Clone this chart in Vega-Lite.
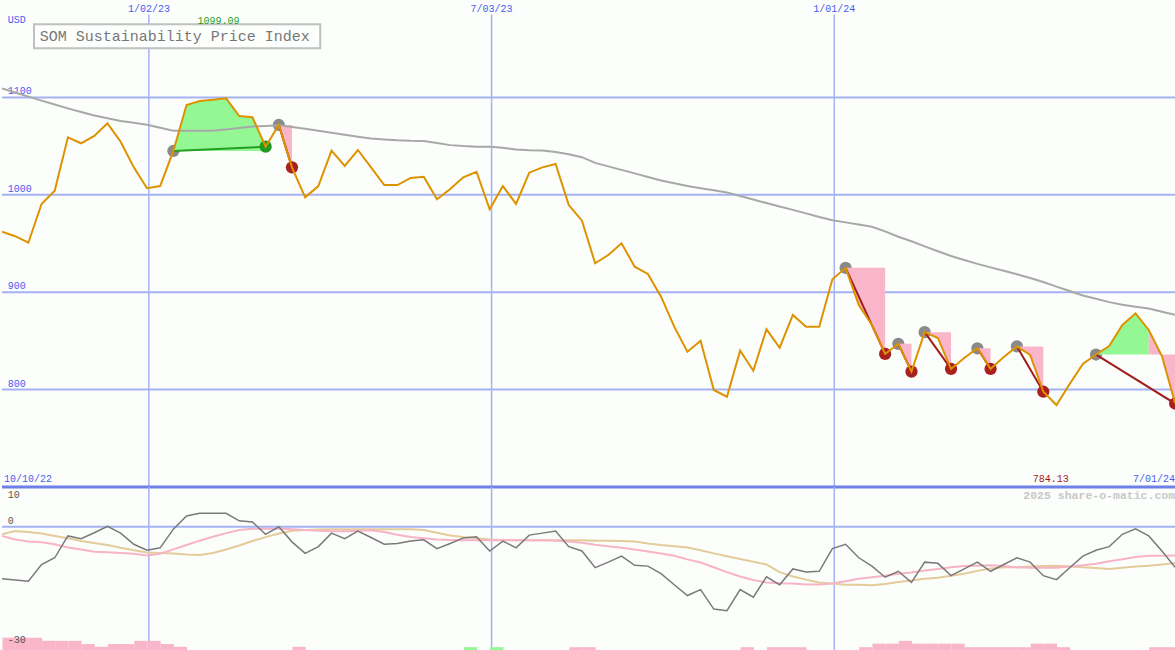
{
  "$schema": "https://vega.github.io/schema/vega-lite/v6.json",
  "background": "#fbfefb",
  "padding": 0,
  "spacing": 0,
  "bounds": "flush",
  "config": {"font": "Liberation Mono", "view": {"stroke": null}},
  "datasets": {
    "series": [
      {"d":"2022-10-16","price":962,"ma":1109.3,"osc":-13.1,"s1":-2.3,"s2":-1.9},
      {"d":"2022-10-23","price":957.5,"ma":1105.1,"osc":-13.4,"s1":-3.2,"s2":-1.1},
      {"d":"2022-10-30","price":950.8,"ma":1100.8,"osc":-13.7,"s1":-3.7,"s2":-1.3},
      {"d":"2022-11-06","price":990.6,"ma":1096.7,"osc":-9.5,"s1":-3.9,"s2":-1.7},
      {"d":"2022-11-13","price":1004.2,"ma":1092.7,"osc":-7.8,"s1":-4.4,"s2":-2.3},
      {"d":"2022-11-20","price":1059,"ma":1088.7,"osc":-2.3,"s1":-5.2,"s2":-2.9},
      {"d":"2022-11-27","price":1052.9,"ma":1085,"osc":-3.0,"s1":-5.7,"s2":-3.6},
      {"d":"2022-12-04","price":1060.4,"ma":1081.4,"osc":-1.5,"s1":-6.3,"s2":-4.1},
      {"d":"2022-12-11","price":1073.4,"ma":1078.5,"osc":0.1,"s1":-6.4,"s2":-4.6},
      {"d":"2022-12-18","price":1054.5,"ma":1075.8,"osc":-1.6,"s1":-6.6,"s2":-5.3},
      {"d":"2022-12-25","price":1028.2,"ma":1073.9,"osc":-4.4,"s1":-6.8,"s2":-5.9},
      {"d":"2023-01-01","price":1006.7,"ma":1072,"osc":-5.9,"s1":-7.2,"s2":-6.5},
      {"d":"2023-01-08","price":1009,"ma":1068.8,"osc":-5.3,"s1":-6.8,"s2":-6.6},
      {"d":"2023-01-15","price":1045,"ma":1065.8,"osc":-0.6,"s1":-5.7,"s2":-6.7},
      {"d":"2023-01-22","price":1092.2,"ma":1065.8,"osc":2.7,"s1":-4.6,"s2":-7.0},
      {"d":"2023-01-29","price":1096.3,"ma":1065.8,"osc":3.4,"s1":-3.5,"s2":-7.1},
      {"d":"2023-02-05","price":1097.5,"ma":1065.8,"osc":3.4,"s1":-2.5,"s2":-6.6},
      {"d":"2023-02-12","price":1099.09,"ma":1067.1,"osc":3.4,"s1":-1.6,"s2":-5.7},
      {"d":"2023-02-19","price":1080.9,"ma":1068.7,"osc":1.5,"s1":-0.8,"s2":-4.7},
      {"d":"2023-02-26","price":1079.6,"ma":1070.1,"osc":1.2,"s1":-0.5,"s2":-3.6},
      {"d":"2023-03-05","price":1049.4,"ma":1070.6,"osc":-1.9,"s1":-0.5,"s2":-2.6},
      {"d":"2023-03-12","price":1071.7,"ma":1071.3,"osc":0.0,"s1":-0.5,"s2":-1.7},
      {"d":"2023-03-19","price":1028.2,"ma":1069.6,"osc":-3.8,"s1":-0.6,"s2":-1.0},
      {"d":"2023-03-26","price":997.4,"ma":1067.8,"osc":-6.7,"s1":-0.8,"s2":-0.8},
      {"d":"2023-04-02","price":1009,"ma":1065.7,"osc":-5.0,"s1":-1.0,"s2":-0.7},
      {"d":"2023-04-09","price":1045.3,"ma":1063.7,"osc":-1.6,"s1":-1.1,"s2":-0.6},
      {"d":"2023-04-16","price":1029.6,"ma":1061.6,"osc":-3.0,"s1":-1.1,"s2":-0.6},
      {"d":"2023-04-23","price":1046,"ma":1059.7,"osc":-1.1,"s1":-1.0,"s2":-0.6},
      {"d":"2023-04-30","price":1028.2,"ma":1057.8,"osc":-2.7,"s1":-0.9,"s2":-0.6},
      {"d":"2023-05-07","price":1010,"ma":1056.9,"osc":-4.4,"s1":-1.3,"s2":-0.6},
      {"d":"2023-05-14","price":1010,"ma":1055.9,"osc":-4.2,"s1":-2.0,"s2":-0.6},
      {"d":"2023-05-21","price":1017.3,"ma":1055.4,"osc":-3.6,"s1":-2.6,"s2":-0.6},
      {"d":"2023-05-28","price":1018.6,"ma":1055.2,"osc":-3.3,"s1":-2.9,"s2":-0.8},
      {"d":"2023-06-04","price":995.4,"ma":1053.2,"osc":-5.5,"s1":-3.2,"s2":-1.5},
      {"d":"2023-06-11","price":1006,"ma":1051,"osc":-4.2,"s1":-3.3,"s2":-2.2},
      {"d":"2023-06-18","price":1018,"ma":1050,"osc":-2.8,"s1":-3.4,"s2":-2.6},
      {"d":"2023-06-25","price":1023.7,"ma":1049.4,"osc":-2.5,"s1":-3.4,"s2":-2.9},
      {"d":"2023-07-02","price":985.1,"ma":1049.4,"osc":-6.1,"s1":-3.4,"s2":-3.2},
      {"d":"2023-07-09","price":1009,"ma":1048.2,"osc":-3.6,"s1":-3.4,"s2":-3.3},
      {"d":"2023-07-16","price":990.6,"ma":1046.6,"osc":-5.3,"s1":-3.4,"s2":-3.4},
      {"d":"2023-07-23","price":1022.7,"ma":1045.8,"osc":-2.1,"s1":-3.4,"s2":-3.4},
      {"d":"2023-07-30","price":1028.2,"ma":1045.5,"osc":-1.6,"s1":-3.4,"s2":-3.4},
      {"d":"2023-08-06","price":1031.6,"ma":1043.9,"osc":-1.1,"s1":-3.5,"s2":-3.4},
      {"d":"2023-08-13","price":989.5,"ma":1041.6,"osc":-5.0,"s1":-3.7,"s2":-3.4},
      {"d":"2023-08-20","price":973.4,"ma":1038.6,"osc":-6.1,"s1":-4.0,"s2":-3.4},
      {"d":"2023-08-27","price":929.7,"ma":1032.8,"osc":-10.3,"s1":-4.5,"s2":-3.5},
      {"d":"2023-09-03","price":938.2,"ma":1029.2,"osc":-8.9,"s1":-4.9,"s2":-3.5},
      {"d":"2023-09-10","price":950.2,"ma":1025.6,"osc":-7.4,"s1":-5.3,"s2":-3.6},
      {"d":"2023-09-17","price":926.2,"ma":1022,"osc":-9.7,"s1":-5.7,"s2":-3.7},
      {"d":"2023-09-24","price":918.7,"ma":1018.3,"osc":-9.9,"s1":-6.2,"s2":-4.2},
      {"d":"2023-10-01","price":895.4,"ma":1014.6,"osc":-11.8,"s1":-6.7,"s2":-4.6},
      {"d":"2023-10-08","price":864.6,"ma":1011.8,"osc":-14.6,"s1":-7.3,"s2":-4.9},
      {"d":"2023-10-15","price":838.9,"ma":1009.1,"osc":-17.3,"s1":-8.2,"s2":-5.2},
      {"d":"2023-10-22","price":850.2,"ma":1006.7,"osc":-15.8,"s1":-9.0,"s2":-5.9},
      {"d":"2023-10-29","price":799.6,"ma":1004.6,"osc":-20.7,"s1":-10.2,"s2":-6.7},
      {"d":"2023-11-05","price":792.7,"ma":1002.4,"osc":-21.1,"s1":-11.4,"s2":-7.4},
      {"d":"2023-11-12","price":839.9,"ma":998.8,"osc":-15.8,"s1":-12.5,"s2":-8.1},
      {"d":"2023-11-19","price":819.4,"ma":995.1,"osc":-17.7,"s1":-13.4,"s2":-8.8},
      {"d":"2023-11-26","price":861.9,"ma":991.5,"osc":-12.6,"s1":-14.0,"s2":-9.5},
      {"d":"2023-12-03","price":843,"ma":988,"osc":-14.6,"s1":-14.2,"s2":-11.4},
      {"d":"2023-12-10","price":876.6,"ma":984.5,"osc":-10.6,"s1":-14.3,"s2":-12.5},
      {"d":"2023-12-17","price":864.6,"ma":980.9,"osc":-11.4,"s1":-14.5,"s2":-13.3},
      {"d":"2023-12-24","price":864.6,"ma":977.3,"osc":-11.2,"s1":-14.5,"s2":-14.0},
      {"d":"2023-12-31","price":913.2,"ma":973.9,"osc":-5.5,"s1":-14.3,"s2":-14.3},
      {"d":"2024-01-07","price":925,"ma":971.7,"osc":-4.4,"s1":-13.7,"s2":-14.6},
      {"d":"2024-01-14","price":886.9,"ma":969.4,"osc":-7.8,"s1":-13.1,"s2":-14.6},
      {"d":"2024-01-21","price":866.3,"ma":967.2,"osc":-9.9,"s1":-12.7,"s2":-14.7},
      {"d":"2024-01-28","price":836.6,"ma":962.5,"osc":-12.7,"s1":-12.3,"s2":-14.4},
      {"d":"2024-02-04","price":847,"ma":956.9,"osc":-11.2,"s1":-11.8,"s2":-13.9},
      {"d":"2024-02-11","price":818.4,"ma":952.3,"osc":-14.0,"s1":-11.5,"s2":-13.5},
      {"d":"2024-02-18","price":859,"ma":947.1,"osc":-8.9,"s1":-11.0,"s2":-13.1},
      {"d":"2024-02-25","price":853,"ma":942.1,"osc":-9.2,"s1":-10.6,"s2":-12.8},
      {"d":"2024-03-03","price":821.2,"ma":937.2,"osc":-12.3,"s1":-10.2,"s2":-12.3},
      {"d":"2024-03-10","price":832.4,"ma":933.1,"osc":-10.6,"s1":-9.9,"s2":-11.8},
      {"d":"2024-03-17","price":842.4,"ma":929.1,"osc":-8.9,"s1":-9.8,"s2":-11.1},
      {"d":"2024-03-24","price":821.2,"ma":925.5,"osc":-11.2,"s1":-9.7,"s2":-10.5},
      {"d":"2024-03-31","price":833.5,"ma":922.1,"osc":-9.5,"s1":-9.9,"s2":-10.2},
      {"d":"2024-04-07","price":844.3,"ma":918.5,"osc":-7.8,"s1":-10.2,"s2":-10.2},
      {"d":"2024-04-14","price":835.5,"ma":914.6,"osc":-8.9,"s1":-10.3,"s2":-10.0},
      {"d":"2024-04-21","price":797.8,"ma":910.5,"osc":-12.3,"s1":-10.3,"s2":-9.9},
      {"d":"2024-04-28","price":784.13,"ma":905.7,"osc":-13.3,"s1":-10.3,"s2":-9.8},
      {"d":"2024-05-05","price":805.7,"ma":901.2,"osc":-10.3,"s1":-10.0,"s2":-10.0},
      {"d":"2024-05-12","price":826.3,"ma":896.6,"osc":-7.4,"s1":-9.7,"s2":-10.2},
      {"d":"2024-05-19","price":836,"ma":893.2,"osc":-5.9,"s1":-9.3,"s2":-10.4},
      {"d":"2024-05-26","price":844.8,"ma":889.8,"osc":-5.0,"s1":-8.7,"s2":-10.6},
      {"d":"2024-06-02","price":866.3,"ma":887.1,"osc":-1.9,"s1":-8.2,"s2":-10.3},
      {"d":"2024-06-09","price":878.3,"ma":885,"osc":-0.5,"s1":-7.6,"s2":-10.0},
      {"d":"2024-06-16","price":861.2,"ma":883.2,"osc":-2.3,"s1":-7.3,"s2":-9.8},
      {"d":"2024-06-23","price":834.5,"ma":880,"osc":-6.1,"s1":-7.3,"s2":-9.5},
      {"d":"2024-06-30","price":785.7,"ma":876.7,"osc":-10.2,"s1":-7.2,"s2":-9.1}
    ],
    "fills": [
      {"seg":"g1","kind":"win","d":"2023-01-15","price":1045,"level":1045},
      {"seg":"g1","kind":"win","d":"2023-01-22","price":1092.2,"level":1045},
      {"seg":"g1","kind":"win","d":"2023-01-29","price":1096.3,"level":1045},
      {"seg":"g1","kind":"win","d":"2023-02-05","price":1097.5,"level":1045},
      {"seg":"g1","kind":"win","d":"2023-02-12","price":1099.09,"level":1045},
      {"seg":"g1","kind":"win","d":"2023-02-19","price":1080.9,"level":1045},
      {"seg":"g1","kind":"win","d":"2023-02-26","price":1079.6,"level":1045},
      {"seg":"g1","kind":"win","d":"2023-03-05","price":1049.4,"level":1045},
      {"seg":"p1","kind":"loss","d":"2023-03-12","price":1071.7,"level":1071.7},
      {"seg":"p1","kind":"loss","d":"2023-03-19","price":1028.2,"level":1071.7},
      {"seg":"p2","kind":"loss","d":"2024-01-07","price":925,"level":925},
      {"seg":"p2","kind":"loss","d":"2024-01-14","price":886.9,"level":925},
      {"seg":"p2","kind":"loss","d":"2024-01-21","price":866.3,"level":925},
      {"seg":"p2","kind":"loss","d":"2024-01-28","price":836.6,"level":925},
      {"seg":"p3","kind":"loss","d":"2024-02-04","price":847,"level":847},
      {"seg":"p3","kind":"loss","d":"2024-02-11","price":818.4,"level":847},
      {"seg":"p4","kind":"loss","d":"2024-02-18","price":859,"level":859},
      {"seg":"p4","kind":"loss","d":"2024-02-25","price":853,"level":859},
      {"seg":"p4","kind":"loss","d":"2024-03-03","price":821.2,"level":859},
      {"seg":"p5","kind":"loss","d":"2024-03-17","price":842.4,"level":842.4},
      {"seg":"p5","kind":"loss","d":"2024-03-24","price":821.2,"level":842.4},
      {"seg":"p6","kind":"loss","d":"2024-04-07","price":844.3,"level":844.3},
      {"seg":"p6","kind":"loss","d":"2024-04-14","price":835.5,"level":844.3},
      {"seg":"p6","kind":"loss","d":"2024-04-21","price":797.8,"level":844.3},
      {"seg":"g2","kind":"win","d":"2024-05-19","price":836,"level":836},
      {"seg":"g2","kind":"win","d":"2024-05-26","price":844.8,"level":836},
      {"seg":"g2","kind":"win","d":"2024-06-02","price":866.3,"level":836},
      {"seg":"g2","kind":"win","d":"2024-06-09","price":878.3,"level":836},
      {"seg":"g2","kind":"win","d":"2024-06-16","price":861.2,"level":836},
      {"seg":"p7","kind":"loss","d":"2024-06-16","price":861.2,"level":836},
      {"seg":"p7","kind":"loss","d":"2024-06-23","price":834.5,"level":836},
      {"seg":"p7","kind":"loss","d":"2024-06-30","price":785.7,"level":836}
    ],
    "trades": [
      {"t":"a","kind":"win","pt":"entry","d":"2023-01-15","v":1045},
      {"t":"a","kind":"win","pt":"win","d":"2023-03-05","v":1049.4},
      {"t":"b","kind":"loss","pt":"entry","d":"2023-03-12","v":1071.7},
      {"t":"b","kind":"loss","pt":"loss","d":"2023-03-19","v":1028.2},
      {"t":"c","kind":"loss","pt":"entry","d":"2024-01-07","v":925},
      {"t":"c","kind":"loss","pt":"loss","d":"2024-01-28","v":836.6},
      {"t":"d","kind":"loss","pt":"entry","d":"2024-02-04","v":847},
      {"t":"d","kind":"loss","pt":"loss","d":"2024-02-11","v":818.4},
      {"t":"e","kind":"loss","pt":"entry","d":"2024-02-18","v":859},
      {"t":"e","kind":"loss","pt":"loss","d":"2024-03-03","v":821.2},
      {"t":"f","kind":"loss","pt":"entry","d":"2024-03-17","v":842.4},
      {"t":"f","kind":"loss","pt":"loss","d":"2024-03-24","v":821.2},
      {"t":"g","kind":"loss","pt":"entry","d":"2024-04-07","v":844.3},
      {"t":"g","kind":"loss","pt":"loss","d":"2024-04-21","v":797.8},
      {"t":"h","kind":"loss","pt":"entry","d":"2024-05-19","v":836},
      {"t":"h","kind":"loss","pt":"loss","d":"2024-06-30","v":785.7}
    ],
    "bars": [
      {"d":"2022-10-16","top":-27.9,"kind":"dn"},
      {"d":"2022-10-23","top":-27.9,"kind":"dn"},
      {"d":"2022-10-30","top":-27.9,"kind":"dn"},
      {"d":"2022-11-06","top":-28.7,"kind":"dn"},
      {"d":"2022-11-13","top":-28.7,"kind":"dn"},
      {"d":"2022-11-20","top":-28.7,"kind":"dn"},
      {"d":"2022-11-27","top":-29.5,"kind":"dn"},
      {"d":"2022-12-04","top":-30.2,"kind":"dn"},
      {"d":"2022-12-11","top":-29.5,"kind":"dn"},
      {"d":"2022-12-18","top":-29.5,"kind":"dn"},
      {"d":"2022-12-25","top":-28.7,"kind":"dn"},
      {"d":"2023-01-01","top":-28.7,"kind":"dn"},
      {"d":"2023-01-08","top":-29.5,"kind":"dn"},
      {"d":"2023-01-15","top":-30.2,"kind":"dn"},
      {"d":"2023-03-19","top":-30.2,"kind":"dn"},
      {"d":"2023-06-18","top":-30.3,"kind":"up"},
      {"d":"2023-07-02","top":-30.3,"kind":"up"},
      {"d":"2023-08-13","top":-30.3,"kind":"dn"},
      {"d":"2023-08-20","top":-30.3,"kind":"dn"},
      {"d":"2023-11-12","top":-30.3,"kind":"dn"},
      {"d":"2023-11-26","top":-30.3,"kind":"dn"},
      {"d":"2023-12-03","top":-30.3,"kind":"dn"},
      {"d":"2023-12-10","top":-30.3,"kind":"dn"},
      {"d":"2024-01-14","top":-30.3,"kind":"dn"},
      {"d":"2024-01-21","top":-29.4,"kind":"dn"},
      {"d":"2024-01-28","top":-29.4,"kind":"dn"},
      {"d":"2024-02-04","top":-28.7,"kind":"dn"},
      {"d":"2024-02-11","top":-29.4,"kind":"dn"},
      {"d":"2024-02-18","top":-29.4,"kind":"dn"},
      {"d":"2024-02-25","top":-29.4,"kind":"dn"},
      {"d":"2024-03-03","top":-29.4,"kind":"dn"},
      {"d":"2024-03-10","top":-30.3,"kind":"dn"},
      {"d":"2024-03-17","top":-30.3,"kind":"dn"},
      {"d":"2024-03-24","top":-30.3,"kind":"dn"},
      {"d":"2024-03-31","top":-30.3,"kind":"dn"},
      {"d":"2024-04-07","top":-30.3,"kind":"dn"},
      {"d":"2024-04-14","top":-29.4,"kind":"dn"},
      {"d":"2024-04-21","top":-29.4,"kind":"dn"},
      {"d":"2024-04-28","top":-30.3,"kind":"dn"},
      {"d":"2024-06-16","top":-30.3,"kind":"dn"},
      {"d":"2024-06-23","top":-30.3,"kind":"dn"},
      {"d":"2024-06-30","top":-30.3,"kind":"dn"}
    ],
    "gridDates": [
      {"d":"2023-01-02","t":"1/02/23"},
      {"d":"2023-07-03","t":"7/03/23"},
      {"d":"2024-01-01","t":"1/01/24"}
    ]
  },
  "vconcat": [
    {
      "width": 1175,
      "height": 487,
      "layer": [
        {
          "data": {"name": "gridDates"},
          "mark": {"type": "rule", "color": "#a6b2f4", "strokeWidth": 1.5},
          "encoding": {
            "x": {"field": "d", "type": "temporal", "scale": {"type": "utc", "domain": [{"year": 2022, "month": 10, "date": 16, "utc": true}, {"year": 2024, "month": 7, "date": 1, "utc": true}]}, "axis": null},
            "y": {"datum": 1185, "type": "quantitative", "scale": {"domain": [700, 1200], "nice": false, "zero": false}, "axis": null},
            "y2": {"datum": 700}
          }
        },
        {
          "data": {"values": [{"v": 800}, {"v": 900}, {"v": 1000}, {"v": 1100}]},
          "mark": {"type": "rule", "color": "#a6b2f4", "strokeWidth": 2},
          "encoding": {"y": {"field": "v", "type": "quantitative", "axis": null}}
        },
        {
          "data": {"name": "gridDates"},
          "mark": {"type": "text", "align": "center", "baseline": "middle", "fontSize": 10, "color": "#4a5cf0", "font": "Liberation Mono"},
          "encoding": {
            "x": {"field": "d", "type": "temporal", "scale": {"type": "utc"}, "axis": null},
            "y": {"datum": 1191, "type": "quantitative", "axis": null},
            "text": {"field": "t"}
          }
        },
        {
          "data": {"values": [{"v": 800}, {"v": 900}, {"v": 1000}, {"v": 1100}]},
          "mark": {"type": "text", "align": "left", "baseline": "bottom", "dy": -1, "fontSize": 10, "color": "#4a5cf0", "font": "Liberation Mono"},
          "encoding": {
            "x": {"datum": {"year": 2022, "month": 10, "date": 19, "utc": true}, "type": "temporal", "axis": null},
            "y": {"field": "v", "type": "quantitative", "axis": null},
            "text": {"field": "v", "type": "quantitative", "format": "d"}
          }
        },
        {
          "data": {"name": "trades"},
          "transform": [{"filter": "datum.pt === 'entry'"}],
          "mark": {"type": "point", "filled": true, "size": 150, "color": "#8a8a8a", "opacity": 1, "clip": true},
          "encoding": {
            "x": {"field": "d", "type": "temporal", "scale": {"type": "utc"}, "axis": null},
            "y": {"field": "v", "type": "quantitative", "axis": null}
          }
        },
        {
          "data": {"name": "fills"},
          "transform": [{"filter": "datum.kind === 'win'"}],
          "mark": {"type": "area", "color": "#93f793", "opacity": 1, "clip": true},
          "encoding": {
            "x": {"field": "d", "type": "temporal", "scale": {"type": "utc"}, "axis": null},
            "y": {"field": "price", "type": "quantitative", "axis": null},
            "y2": {"field": "level"},
            "detail": {"field": "seg"}
          }
        },
        {
          "data": {"name": "fills"},
          "transform": [{"filter": "datum.kind === 'loss'"}],
          "mark": {"type": "area", "color": "#f9b5c9", "opacity": 1, "clip": true},
          "encoding": {
            "x": {"field": "d", "type": "temporal", "scale": {"type": "utc"}, "axis": null},
            "y": {"field": "price", "type": "quantitative", "axis": null},
            "y2": {"field": "level"},
            "detail": {"field": "seg"}
          }
        },
        {
          "data": {"name": "series"},
          "mark": {"type": "line", "color": "#a8a8a8", "strokeWidth": 2, "clip": true},
          "encoding": {
            "x": {"field": "d", "type": "temporal", "scale": {"type": "utc"}, "axis": null},
            "y": {"field": "ma", "type": "quantitative", "axis": null}
          }
        },
        {
          "data": {"name": "trades"},
          "transform": [{"filter": "datum.kind === 'win'"}],
          "mark": {"type": "line", "color": "#22a022", "strokeWidth": 2, "clip": true},
          "encoding": {
            "x": {"field": "d", "type": "temporal", "scale": {"type": "utc"}, "axis": null},
            "y": {"field": "v", "type": "quantitative", "axis": null},
            "detail": {"field": "t"}
          }
        },
        {
          "data": {"name": "trades"},
          "transform": [{"filter": "datum.kind === 'loss'"}],
          "mark": {"type": "line", "color": "#a31c1c", "strokeWidth": 2, "clip": true},
          "encoding": {
            "x": {"field": "d", "type": "temporal", "scale": {"type": "utc"}, "axis": null},
            "y": {"field": "v", "type": "quantitative", "axis": null},
            "detail": {"field": "t"}
          }
        },
        {
          "data": {"name": "trades"},
          "transform": [{"filter": "datum.pt === 'win'"}],
          "mark": {"type": "point", "filled": true, "size": 150, "color": "#229a22", "opacity": 1, "clip": true},
          "encoding": {
            "x": {"field": "d", "type": "temporal", "scale": {"type": "utc"}, "axis": null},
            "y": {"field": "v", "type": "quantitative", "axis": null}
          }
        },
        {
          "data": {"name": "trades"},
          "transform": [{"filter": "datum.pt === 'loss'"}],
          "mark": {"type": "point", "filled": true, "size": 150, "color": "#aa1f1f", "opacity": 1, "clip": true},
          "encoding": {
            "x": {"field": "d", "type": "temporal", "scale": {"type": "utc"}, "axis": null},
            "y": {"field": "v", "type": "quantitative", "axis": null}
          }
        },
        {
          "data": {"name": "series"},
          "mark": {"type": "line", "color": "#dd9200", "strokeWidth": 2, "clip": true},
          "encoding": {
            "x": {"field": "d", "type": "temporal", "scale": {"type": "utc"}, "axis": null},
            "y": {"field": "price", "type": "quantitative", "axis": null}
          }
        },
        {
          "data": {"values": [{"v": 700}]},
          "mark": {"type": "rule", "color": "#6f80e8", "strokeWidth": 3},
          "encoding": {"y": {"field": "v", "type": "quantitative", "axis": null}}
        },
        {
          "data": {"values": [{"d": "2022-11-02", "d2": "2023-04-03", "v": 1175, "v2": 1150.5}]},
          "mark": {"type": "rect", "fill": "#fdfffd", "stroke": "#c0c0c0", "strokeWidth": 2},
          "encoding": {
            "x": {"field": "d", "type": "temporal", "scale": {"type": "utc"}, "axis": null},
            "x2": {"field": "d2"},
            "y": {"field": "v", "type": "quantitative", "axis": null},
            "y2": {"field": "v2"}
          }
        },
        {
          "data": {"values": [{"d": "2022-11-05", "v": 1163, "t": "SOM Sustainability Price Index"}]},
          "mark": {"type": "text", "align": "left", "baseline": "middle", "fontSize": 15, "color": "#777777", "font": "Liberation Mono"},
          "encoding": {
            "x": {"field": "d", "type": "temporal", "scale": {"type": "utc"}, "axis": null},
            "y": {"field": "v", "type": "quantitative", "axis": null},
            "text": {"field": "t"}
          }
        },
        {
          "data": {"values": [
            {"d": "2022-10-19", "v": 1179.5, "t": "USD"},
            {"d": "2022-10-17", "v": 708.2, "t": "10/10/22"}
          ]},
          "mark": {"type": "text", "align": "left", "baseline": "middle", "fontSize": 10, "color": "#4a5cf0", "font": "Liberation Mono"},
          "encoding": {
            "x": {"field": "d", "type": "temporal", "scale": {"type": "utc"}, "axis": null},
            "y": {"field": "v", "type": "quantitative", "axis": null},
            "text": {"field": "t"}
          }
        },
        {
          "data": {"values": [{"d": "2024-06-30", "v": 708.2, "t": "7/01/24"}]},
          "mark": {"type": "text", "align": "right", "baseline": "middle", "fontSize": 10, "color": "#4a5cf0", "font": "Liberation Mono"},
          "encoding": {
            "x": {"field": "d", "type": "temporal", "scale": {"type": "utc"}, "axis": null},
            "y": {"field": "v", "type": "quantitative", "axis": null},
            "text": {"field": "t"}
          }
        },
        {
          "data": {"values": [{"d": "2023-02-08", "v": 1178.4, "t": "1099.09"}]},
          "mark": {"type": "text", "align": "center", "baseline": "middle", "fontSize": 10, "color": "#1f9f1f", "font": "Liberation Mono"},
          "encoding": {
            "x": {"field": "d", "type": "temporal", "scale": {"type": "utc"}, "axis": null},
            "y": {"field": "v", "type": "quantitative", "axis": null},
            "text": {"field": "t"}
          }
        },
        {
          "data": {"values": [{"d": "2024-04-25", "v": 708.2, "t": "784.13"}]},
          "mark": {"type": "text", "align": "center", "baseline": "middle", "fontSize": 10, "color": "#a81818", "font": "Liberation Mono"},
          "encoding": {
            "x": {"field": "d", "type": "temporal", "scale": {"type": "utc"}, "axis": null},
            "y": {"field": "v", "type": "quantitative", "axis": null},
            "text": {"field": "t"}
          }
        }
      ]
    },
    {
      "width": 1175,
      "height": 163,
      "layer": [
        {
          "data": {"name": "gridDates"},
          "mark": {"type": "rule", "color": "#a6b2f4", "strokeWidth": 1.5},
          "encoding": {
            "x": {"field": "d", "type": "temporal", "scale": {"type": "utc", "domain": [{"year": 2022, "month": 10, "date": 16, "utc": true}, {"year": 2024, "month": 7, "date": 1, "utc": true}]}, "axis": null}
          }
        },
        {
          "data": {"values": [{"v": 0}]},
          "mark": {"type": "rule", "color": "#a6b2f4", "strokeWidth": 2},
          "encoding": {"y": {"field": "v", "type": "quantitative", "scale": {"domain": [-31, 10], "nice": false, "zero": false}, "axis": null}}
        },
        {
          "data": {"name": "bars"},
          "transform": [{"filter": "datum.kind === 'dn'"}],
          "mark": {"type": "rect", "color": "#f9b5c9", "clip": true},
          "encoding": {
            "x": {"field": "d", "type": "temporal", "timeUnit": "utcyearweek", "scale": {"type": "utc"}, "axis": null},
            "y": {"field": "top", "type": "quantitative", "axis": null},
            "y2": {"datum": -31}
          }
        },
        {
          "data": {"name": "bars"},
          "transform": [{"filter": "datum.kind === 'up'"}],
          "mark": {"type": "rect", "color": "#93f793", "clip": true},
          "encoding": {
            "x": {"field": "d", "type": "temporal", "timeUnit": "utcyearweek", "scale": {"type": "utc"}, "axis": null},
            "y": {"field": "top", "type": "quantitative", "axis": null},
            "y2": {"datum": -31}
          }
        },
        {
          "data": {"name": "series"},
          "mark": {"type": "line", "color": "#e4cb9a", "strokeWidth": 2, "clip": true},
          "encoding": {
            "x": {"field": "d", "type": "temporal", "scale": {"type": "utc"}, "axis": null},
            "y": {"field": "s2", "type": "quantitative", "axis": null}
          }
        },
        {
          "data": {"name": "series"},
          "mark": {"type": "line", "color": "#f7b3c8", "strokeWidth": 2, "clip": true},
          "encoding": {
            "x": {"field": "d", "type": "temporal", "scale": {"type": "utc"}, "axis": null},
            "y": {"field": "s1", "type": "quantitative", "axis": null}
          }
        },
        {
          "data": {"name": "series"},
          "mark": {"type": "line", "color": "#7a7a7a", "strokeWidth": 1.5, "clip": true},
          "encoding": {
            "x": {"field": "d", "type": "temporal", "scale": {"type": "utc"}, "axis": null},
            "y": {"field": "osc", "type": "quantitative", "axis": null}
          }
        },
        {
          "data": {"values": [{"v": 10, "t": "10"}]},
          "mark": {"type": "text", "align": "left", "baseline": "top", "dy": 3, "fontSize": 10, "color": "#555555", "font": "Liberation Mono"},
          "encoding": {
            "x": {"datum": {"year": 2022, "month": 10, "date": 19, "utc": true}, "type": "temporal", "axis": null},
            "y": {"field": "v", "type": "quantitative", "axis": null},
            "text": {"field": "t"}
          }
        },
        {
          "data": {"values": [{"v": 0, "t": "0"}, {"v": -30, "t": "-30"}]},
          "mark": {"type": "text", "align": "left", "baseline": "bottom", "dy": -1, "fontSize": 10, "color": "#555555", "font": "Liberation Mono"},
          "encoding": {
            "x": {"datum": {"year": 2022, "month": 10, "date": 19, "utc": true}, "type": "temporal", "axis": null},
            "y": {"field": "v", "type": "quantitative", "axis": null},
            "text": {"field": "t"}
          }
        },
        {
          "data": {"values": [{"d": "2024-06-30", "v": 7.7, "t": "2025 share-o-matic.com"}]},
          "mark": {"type": "text", "align": "right", "baseline": "middle", "fontSize": 11.5, "fontWeight": "bold", "color": "#c8c8c8", "font": "Liberation Mono"},
          "encoding": {
            "x": {"field": "d", "type": "temporal", "scale": {"type": "utc"}, "axis": null},
            "y": {"field": "v", "type": "quantitative", "axis": null},
            "text": {"field": "t"}
          }
        }
      ]
    }
  ]
}
